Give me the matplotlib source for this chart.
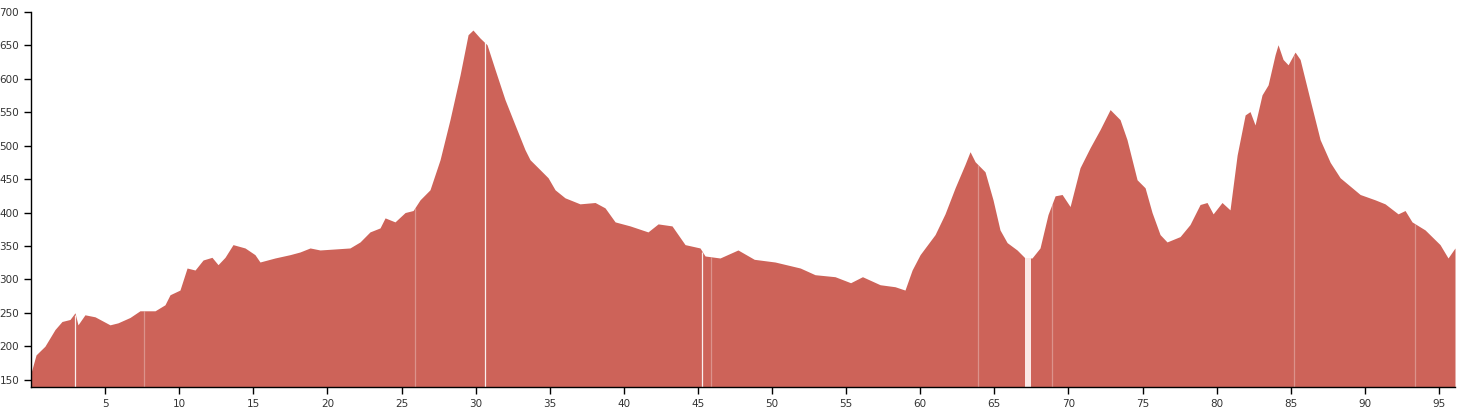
import matplotlib
matplotlib.use("Agg")
import matplotlib.pyplot as plt
import numpy as np

# elevation profile (km, m)
km = [0.0, 0.34, 0.94, 1.62, 2.09, 2.63, 2.97, 3.17, 3.64, 4.32, 5.33, 5.87,
      6.68, 7.35, 8.37, 9.04, 9.38, 10.05, 10.53, 11.07, 11.61, 12.21, 12.62,
      13.09, 13.63, 14.44, 15.11, 15.45, 16.46, 17.48, 18.15, 18.83, 19.5,
      20.85, 21.52, 22.2, 22.87, 23.55, 23.89, 24.56, 25.24, 25.78, 26.25,
      26.92, 27.6, 28.27, 28.95, 29.49, 29.82, 30.3, 30.77, 31.31, 31.98,
      32.66, 33.33, 33.67, 34.35, 34.89, 35.36, 36.03, 36.37, 37.04, 38.06,
      38.73, 39.41, 40.42, 41.63, 42.31, 43.25, 44.13, 45.14, 45.48, 46.49,
      47.7, 48.8, 50.2, 51.9, 52.9, 54.25, 55.3, 56.1, 57.29, 58.3, 58.97,
      59.45, 59.99, 61.0, 61.67, 62.35, 63.02, 63.36, 63.7, 64.37, 64.91,
      65.38, 65.86, 66.53, 67.07, 67.54, 68.08, 68.62, 69.1, 69.57, 70.11,
      70.78, 71.46, 72.13, 72.81, 73.48, 73.95, 74.63, 75.17, 75.64, 76.18,
      76.65, 77.53, 78.2, 78.88, 79.35, 79.76, 80.36, 80.9, 81.38, 81.92,
      82.25, 82.59, 83.06, 83.47, 83.94, 84.14, 84.48, 84.82, 85.29, 85.63,
      86.3, 86.98, 87.66, 88.33, 89.68, 90.69, 91.36, 92.24, 92.71, 93.18,
      94.06, 95.07, 95.61, 96.08]
elev = [160, 187, 200, 225, 237, 240, 250, 232, 247, 244, 232, 235,
        243, 253, 253, 262, 277, 284, 317, 314, 329, 333, 322,
        333, 352, 347, 337, 326, 332, 337, 341, 347, 344,
        346, 347, 356, 371, 377, 392, 386, 400, 403, 419,
        434, 479, 539, 606, 666, 673, 661, 651, 614, 569,
        531, 494, 479, 464, 452, 434, 422, 419, 413, 415,
        407, 386, 380, 371, 383, 380, 352, 347, 335, 332,
        344, 330, 326, 317, 307, 304, 295, 304, 292, 289, 284,
        314, 337, 367, 398, 437, 472, 491, 476, 461, 419,
        374, 355, 344, 332, 332, 347, 397, 425, 427, 409,
        467, 497, 524, 554, 539, 509, 449, 437, 400, 367,
        356, 364, 382, 412, 415, 398, 415, 404, 486, 546,
        551, 531, 576, 591, 636, 651, 629, 621, 640, 629,
        569, 509, 475, 452, 427, 419, 413, 398, 403, 386,
        374, 352, 332, 347]

# gaps between track segments
gap_strong = [3.0, 30.6, 45.3]
gap_faint = [7.6, 25.9, 45.9, 63.9, 68.9, 85.2, 93.4]
gap_wide = [(67.1, 67.5)]

y_bottom = 139
fill_color = "#cd6359"

fig = plt.figure(figsize=(14.58, 4.09), dpi=100)
ax = fig.add_axes([31 / 1458, 1 - 387 / 409, 1424 / 1458, 375 / 409])

ax.fill_between(km, elev, y_bottom, color=fill_color, lw=0)

ax.vlines(gap_strong, y_bottom, np.interp(gap_strong, km, elev),
          color="white", lw=0.9, alpha=0.9)
ax.vlines(gap_faint, y_bottom, np.interp(gap_faint, km, elev),
          color="white", lw=0.9, alpha=0.3)
for a, b in gap_wide:
    top = min(np.interp([a, b], km, elev))
    ax.fill_between([a, b], top, y_bottom, color="#fbe8e6", lw=0)

ax.set_xlim(0, km[-1])
ax.set_ylim(y_bottom, 700)
ax.set_yticks(np.arange(150, 701, 50))
ax.set_xticks(np.arange(5, 96, 5))

for s in ["top", "right"]:
    ax.spines[s].set_visible(False)
for s in ["left", "bottom"]:
    ax.spines[s].set_color("black")
    ax.spines[s].set_linewidth(1)
ax.tick_params(length=5, width=1, labelsize=7.5, colors="black",
               labelcolor="#333333")

fig.savefig("out.png", dpi=100)
